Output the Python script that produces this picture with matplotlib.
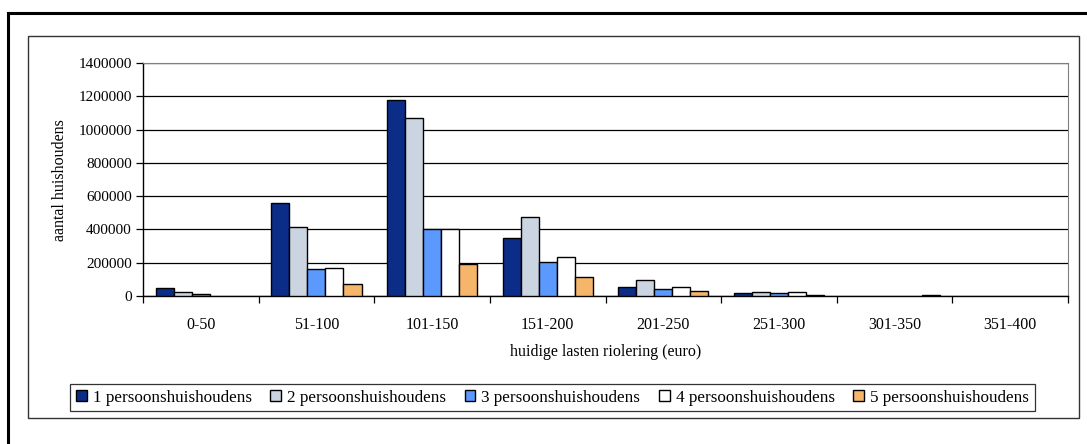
import matplotlib
matplotlib.use("Agg")
import matplotlib.pyplot as plt
from matplotlib.patches import Rectangle, Patch
from matplotlib.lines import Line2D
import numpy as np

plt.rcParams['font.family'] = ['Liberation Serif', 'DejaVu Serif']

categories = ["0-50", "51-100", "101-150", "151-200", "201-250", "251-300", "301-350", "351-400"]
series_names = ["1 persoonshuishoudens", "2 persoonshuishoudens", "3 persoonshuishoudens",
                "4 persoonshuishoudens", "5 persoonshuishoudens"]
p1 = [50000, 561000, 1177000, 347000, 56000, 16000, 0, 0]
p2 = [26000, 416000, 1072000, 473000, 96000, 24000, 0, 0]
p3 = [10000, 160000, 403000, 206000, 40000, 18000, 0, 0]
p4 = [0, 166000, 402000, 236000, 56000, 24000, 0, 0]
p5 = [0, 70000, 190000, 112000, 32000, 8000, 5000, 0]
series = [p1, p2, p3, p4, p5]
colors = ["#0B2D87", "#CBD5E1", "#5C99FF", "#FFFFFF", "#F5B56B"]
yticks = [0, 200000, 400000, 600000, 800000, 1000000, 1200000, 1400000]

W, H = 1087, 444
fig = plt.figure(figsize=(W / 100, H / 100), dpi=100)

# outer frame (top and left lines)
fig.add_artist(Line2D([8 / W, 1.0], [1 - 13 / H, 1 - 13 / H], color="black", lw=2.2,
                      transform=fig.transFigure))
fig.add_artist(Line2D([8 / W, 8 / W], [0, 1 - 13 / H], color="black", lw=2.2,
                      transform=fig.transFigure))
# chart area frame
fig.add_artist(Rectangle((28 / W, 1 - 418 / H), (1079 - 28) / W, (418 - 36) / H,
                         fill=False, edgecolor="#333333", lw=1.0, transform=fig.transFigure))

ax = fig.add_axes([143 / W, 1 - 296 / H, (1068 - 143) / W, (296 - 63) / H])
x = np.arange(len(categories))
w = 0.156
handles = []
for j, (vals, c, name) in enumerate(zip(series, colors, series_names)):
    bars = ax.bar(x + (j - 2) * w, vals, width=w, color=c, edgecolor="black", linewidth=1.0,
                  zorder=3)
    for b, v in zip(bars, vals):
        if v == 0:
            b.set_visible(False)
    handles.append(Patch(facecolor=c, edgecolor="black", linewidth=1.0, label=name))

ax.set_xlim(-0.5, len(categories) - 0.5)
ax.set_ylim(0, 1400000)
ax.set_yticks(yticks)
ax.set_yticklabels([str(v) for v in yticks], fontsize=11)
ax.yaxis.grid(True, color="black", lw=0.9, zorder=0)
ax.set_axisbelow(True)

ax.set_xticks(x)
ax.set_xticklabels(categories, fontsize=11.5)
ax.set_xticks(np.arange(len(categories) + 1) - 0.5, minor=True)
ax.tick_params(axis="x", which="major", length=0, pad=15)
ax.tick_params(axis="x", which="minor", length=5, width=0.9, direction="out")
ax.tick_params(axis="y", length=5, width=0.9, direction="out", pad=3)

for s in ["left", "bottom"]:
    ax.spines[s].set_color("black")
    ax.spines[s].set_linewidth(1.0)
ax.spines["right"].set_color("#808080")
ax.spines["top"].set_color("#808080")

fig.text(60 / W, 1 - 180 / H, "aantal huishoudens", rotation=90, ha="center", va="center",
         fontsize=11.5)
fig.text((143 + 1068) / 2 / W, 1 - 352 / H, "huidige lasten riolering (euro)", ha="center",
         va="center", fontsize=11.5)

leg = fig.legend(handles=handles, loc="center", bbox_to_anchor=(552.5 / W, 1 - 397.5 / H),
                 ncol=5, fontsize=12.3, frameon=True, fancybox=False, shadow=False,
                 handlelength=0.62, handleheight=0.62, handletextpad=0.35,
                 columnspacing=1.1, borderpad=0.35, borderaxespad=0)
leg.get_frame().set_edgecolor("black")
leg.get_frame().set_linewidth(0.9)

fig.savefig("out.png", dpi=100)
